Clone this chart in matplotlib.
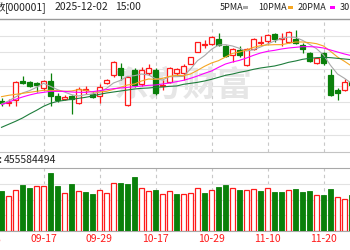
import matplotlib
matplotlib.use('Agg')
import matplotlib.pyplot as plt
import matplotlib.transforms as mtransforms
from matplotlib.patches import Rectangle
import numpy as np

plt.rcParams['font.family'] = ['Noto Sans CJK SC', 'DejaVu Sans']

# ---------------- data ----------------
dates = ['09-09', '09-10', '09-11', '09-12', '09-15', '09-16', '09-17', '09-18', '09-19', '09-22',
         '09-23', '09-24', '09-25', '09-26', '09-29', '09-30', '10-09', '10-10', '10-13', '10-14',
         '10-15', '10-16', '10-17', '10-20', '10-21', '10-22', '10-23', '10-24', '10-27', '10-28',
         '10-29', '10-30', '10-31', '11-03', '11-04', '11-05', '11-06', '11-07', '11-10', '11-11',
         '11-12', '11-13', '11-14', '11-17', '11-18', '11-19', '11-20', '11-21', '11-24', '11-25',
         '11-26']

opens = [3822, 3816, 3824, 3880, 3879, 3874, 3859, 3880, 3836, 3828,
         3836, 3814, 3854, 3842, 3837, 3875, 3899, 3919, 3809, 3915,
         3871, 3904, 3914, 3867, 3877, 3904, 3905, 3933, 3969, 3990,
         3992, 4007, 3987, 3959, 3974, 3929, 3976, 3995, 4002, 4022,
         4008, 3999, 4006, 3989, 3966, 3936, 3964, 3899, 3854, 3854,
         3878]
closes = [3816, 3819, 3878, 3875, 3867, 3868, 3881, 3836, 3824, 3833,
          3828, 3857, 3858, 3832, 3863, 3885, 3937, 3899, 3893, 3869,
          3914, 3919, 3844, 3870, 3919, 3917, 3925, 3952, 3997, 3993,
          4014, 3989, 3956, 3976, 3959, 3976, 4007, 3998, 4019, 4006,
          4011, 4029, 3994, 3976, 3942, 3949, 3934, 3839, 3846, 3879,
          3869]
highs = [3830, 3827, 3881, 3896, 3882, 3879, 3885, 3905, 3845, 3839,
         3839, 3863, 3866, 3848, 3872, 3888, 3942, 3934, 3897, 3921,
         3923, 3933, 3921, 3884, 3924, 3921, 3931, 3954, 3999, 4004,
         4017, 4026, 3989, 3979, 3986, 3979, 4009, 4016, 4022, 4026,
         4024, 4032, 4034, 3994, 3969, 3954, 3969, 3916, 3859, 3886,
         3884]
lows = [3806, 3806, 3806, 3872, 3864, 3848, 3855, 3807, 3818, 3824,
        3783, 3812, 3842, 3829, 3815, 3873, 3893, 3884, 3807, 3864,
        3866, 3899, 3839, 3854, 3874, 3896, 3884, 3931, 3967, 3979,
        3989, 3986, 3954, 3939, 3954, 3927, 3974, 3989, 3992, 3997,
        3986, 3996, 3992, 3964, 3939, 3932, 3929, 3837, 3824, 3852,
        3863]

# volume in 1e8 lots; 1 = up day (red), 0 = down day (green)
volume = [5.20, 4.59, 5.33, 6.02, 5.55, 5.81, 5.81, 7.54, 5.89, 4.94,
          6.15, 5.20, 5.07, 4.77, 5.33, 4.94, 6.24, 6.24, 6.15, 6.98,
          5.55, 5.20, 5.33, 4.77, 5.20, 4.75, 4.85, 4.98, 5.55, 4.98,
          5.33, 5.76, 5.94, 5.55, 5.33, 5.33, 5.42, 5.20, 5.55, 5.07,
          5.07, 5.33, 5.46, 5.07, 5.20, 4.64, 4.64, 5.46, 4.38, 4.16,
          4.68]
vol_up = [0, 1, 1, 0, 0, 1, 1, 0, 0, 1,
          0, 1, 0, 0, 1, 1, 1, 0, 0, 0,
          1, 1, 0, 1, 1, 0, 1, 1, 1, 0,
          1, 0, 0, 1, 0, 1, 1, 0, 1, 0,
          0, 1, 0, 0, 0, 1, 0, 0, 1, 1,
          0]

ma5 = [3812, 3821, 3833, 3845, 3852, 3862, 3874, 3865, 3855, 3848,
       3840, 3836, 3840, 3842, 3848, 3859, 3875, 3883, 3895, 3897,
       3902, 3899, 3888, 3884, 3894, 3894, 3895, 3917, 3942, 3957,
       3976, 3989, 3990, 3986, 3979, 3971, 3975, 3983, 3992, 4001,
       4008, 4013, 4012, 4003, 3991, 3978, 3959, 3928, 3902, 3889,
       3874]
ma10 = [3834, 3838, 3841, 3844, 3847, 3850, 3853, 3853, 3852, 3850,
        3851, 3855, 3853, 3848, 3848, 3850, 3856, 3862, 3869, 3872,
        3881, 3887, 3886, 3889, 3895, 3898, 3897, 3902, 3913, 3925,
        3935, 3942, 3953, 3964, 3968, 3974, 3982, 3987, 3989, 3990,
        3990, 3994, 3998, 3998, 3996, 3993, 3986, 3970, 3953, 3940,
        3926]
ma20 = [3810, 3817, 3826, 3833, 3839, 3844, 3847, 3850, 3850, 3850,
        3848, 3847, 3847, 3849, 3852, 3855, 3858, 3860, 3862, 3864,
        3866, 3868, 3869, 3872, 3875, 3879, 3883, 3889, 3896, 3904,
        3911, 3922, 3932, 3938, 3943, 3950, 3958, 3965, 3970, 3973,
        3977, 3980, 3982, 3984, 3984, 3983, 3980, 3974, 3968, 3962,
        3957]
ma30 = [3742, 3751, 3760, 3770, 3782, 3793, 3805, 3814, 3820, 3823,
        3826, 3829, 3832, 3836, 3841, 3845, 3848, 3851, 3854, 3857,
        3859, 3860, 3862, 3863, 3865, 3866, 3871, 3874, 3877, 3881,
        3886, 3892, 3898, 3902, 3907, 3911, 3916, 3920, 3923, 3926,
        3931, 3937, 3941, 3946, 3949, 3951, 3952, 3951, 3949, 3947,
        3945]

tick_pos = [6, 14, 22, 30, 38, 46]
tick_labels = ['09-17', '09-29', '10-17', '10-29', '11-10', '11-20']
prev_label = '09-05'

# ---------------- style ----------------
RED = '#ff1a1a'
GREEN = '#0a800a'
W, H = 350, 250

fig = plt.figure(figsize=(3.5, 2.5), dpi=100)
ax_p = fig.add_axes([0, (H - 152) / H, 1, 133 / H])
ax_v = fig.add_axes([0, (H - 231) / H, 1, 63 / H])

x = np.arange(len(dates))
xlim = (-1.5 / 7, -1.5 / 7 + 50)
o = np.array(opens, float)
c = np.array(closes, float)
hi = np.array(highs, float)
lo = np.array(lows, float)
up = c >= o
cols = np.where(up, RED, GREEN)

# candles
ax_p.vlines(x, lo, hi, colors=cols, lw=0.9, zorder=3)
body_h = np.maximum(np.abs(c - o), 1.2)
body_b = np.minimum(o, c)
ax_p.bar(x[up], body_h[up], bottom=body_b[up], width=0.62,
         facecolor='white', edgecolor=RED, lw=0.9, zorder=4)
ax_p.bar(x[~up], body_h[~up], bottom=body_b[~up], width=0.62,
         facecolor=GREEN, edgecolor=GREEN, lw=0.9, zorder=4)

# moving averages
ax_p.plot(x, ma5, color='#a8a8a8', lw=0.8, zorder=5)
ax_p.plot(x, ma10, color='#f5a623', lw=0.8, zorder=5)
ax_p.plot(x, ma20, color='#ff00ff', lw=0.8, zorder=5)
ax_p.plot(x, ma30, color='#1e7d3c', lw=0.8, zorder=5)

ax_p.set_xlim(*xlim)
ax_p.set_ylim(3668, 4067)
ax_p.set_yticks(np.linspace(3668, 4067, 9)[1:-1])
ax_p.set_xticks(tick_pos)
ax_p.set_xticklabels([])
ax_p.set_yticklabels([])
ax_p.tick_params(length=0)
ax_p.set_axisbelow(True)
ax_p.yaxis.grid(True, color='#e2e2e2', lw=0.8)
ax_p.xaxis.grid(True, color='#c8c8c8', lw=0.8, ls=(0, (3, 3)))
for s in ('left', 'right'):
    ax_p.spines[s].set_visible(False)
ax_p.spines['top'].set_color('#9a9a9a')
ax_p.spines['top'].set_linewidth(1.0)
ax_p.spines['bottom'].set_color('#c4c4c4')
ax_p.spines['bottom'].set_linewidth(0.8)

# watermark
ax_p.text(183 / W, 1 - 85 / H, '东方财富', transform=fig.transFigure,
          ha='center', va='center', fontsize=25, fontweight='bold',
          color='#e6e6e6', zorder=1)

# volume
v = np.array(volume)
vu = np.array(vol_up) == 1
ax_v.bar(x[vu], v[vu], width=0.66, facecolor='white', edgecolor=RED, lw=0.9, zorder=3)
ax_v.bar(x[~vu], v[~vu], width=0.66, facecolor=GREEN, edgecolor=GREEN, lw=0.6, zorder=3)
ax_v.set_xlim(*xlim)
ax_v.set_ylim(0, 8.19)
ax_v.set_yticks(np.linspace(0, 8.19, 5)[1:-1])
ax_v.set_yticklabels([])
ax_v.set_xticks(tick_pos)
ax_v.set_xticklabels(tick_labels, color=RED, fontsize=7.5)
ax_v.tick_params(length=0)
ax_v.tick_params(axis='x', pad=2.5)
ax_v.set_axisbelow(True)
ax_v.yaxis.grid(True, color='#e2e2e2', lw=0.8)
ax_v.xaxis.grid(True, color='#c8c8c8', lw=0.8, ls=(0, (3, 3)))
for s in ('left', 'right'):
    ax_v.spines[s].set_visible(False)
ax_v.spines['top'].set_color('#a8a8a8')
ax_v.spines['bottom'].set_color('#a8a8a8')
ax_v.spines['top'].set_linewidth(0.8)
ax_v.spines['bottom'].set_linewidth(0.8)
trans = mtransforms.blended_transform_factory(ax_v.transData, ax_v.transAxes)
ax_v.text(-2, -9 / 63, prev_label, transform=trans, ha='center', va='center',
          color=RED, fontsize=7.5, clip_on=False)

# header texts
ty = 1 - 7.5 / H
tc = '#222222'
fig.text(5.5 / W, ty, '上证指数', ha='right', va='center', fontsize=7.5, color=tc)
fig.text(5 / W, ty, '[000001]', ha='left', va='center', fontsize=7.5, color=tc)
fig.text(55 / W, ty, '2025-12-02', ha='left', va='center', fontsize=7.5, color=tc)
fig.text(115 / W, ty, '15:00', ha='left', va='center', fontsize=7.5, color=tc)

legend_items = [('5PMA', 220, 243, '#a8a8a8'), ('10PMA', 258, 288, '#f5a623'),
                ('20PMA', 298, 330, '#ff00ff'), ('30PMA', 340, 372, '#1e7d3c')]
for lab, tx, rx, col in legend_items:
    fig.text(tx / W, ty, lab, ha='left', va='center', fontsize=6.5, color=tc)
    fig.add_artist(Rectangle((rx / W, 1 - 8.5 / H), 5 / W, 2.5 / H,
                             transform=fig.transFigure, color=col, lw=0))

# volume header
vy = 1 - 160 / H
fig.text(3 / W, vy, '成交量:', ha='right', va='center', fontsize=7.5, color=tc)
fig.text(3.5 / W, vy, '455584494', ha='left', va='center', fontsize=7.5, color=tc)

fig.savefig('out.png', dpi=100)
